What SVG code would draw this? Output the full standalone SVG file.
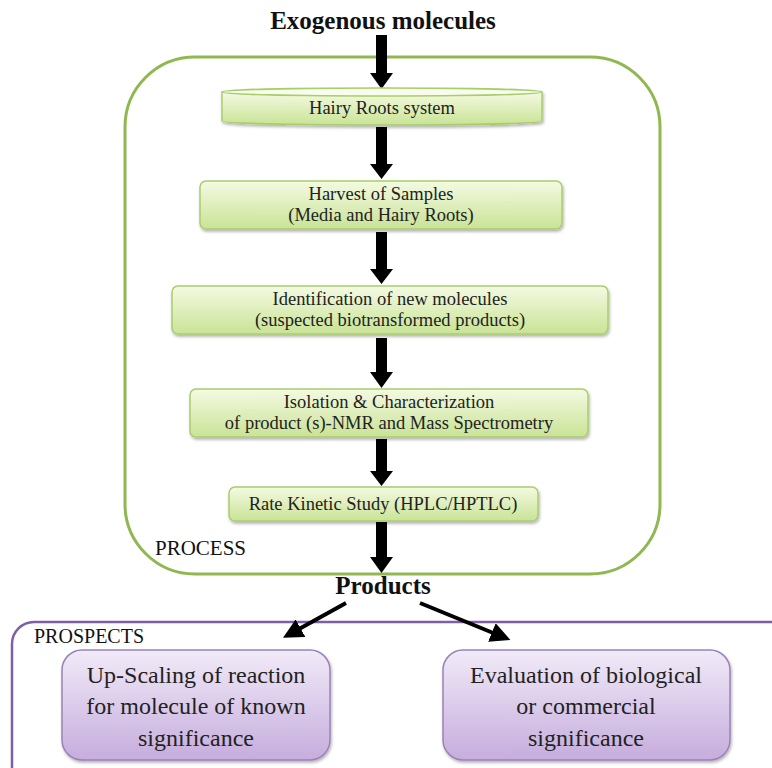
<svg xmlns="http://www.w3.org/2000/svg" width="772" height="768" viewBox="0 0 772 768">
<defs>
<linearGradient id="gg" x1="0" y1="0" x2="0" y2="1"><stop offset="0" stop-color="#f4fae2"/><stop offset="1" stop-color="#c9e396"/></linearGradient>
<linearGradient id="pg" x1="0" y1="0" x2="0" y2="1"><stop offset="0" stop-color="#f1eaf8"/><stop offset="1" stop-color="#c6addd"/></linearGradient>
<filter id="sh" x="-5%" y="-20%" width="110%" height="150%"><feDropShadow dx="1" dy="2" stdDeviation="1.5" flood-color="#000" flood-opacity="0.3"/></filter>
<marker id="ah" viewBox="0 0 10 10" refX="6" refY="5" markerWidth="5" markerHeight="5" orient="auto" markerUnits="strokeWidth"><path d="M0,0 L10,5 L0,10 z" fill="#000"/></marker>
</defs>
<style>
text{font-family:'Liberation Serif',serif;fill:#222;text-anchor:middle}
.g{fill:url(#gg);stroke:#a9cd6c;stroke-width:1.5;filter:url(#sh)}
.p{fill:url(#pg);stroke:#9a82b8;stroke-width:1.5;filter:url(#sh)}
.s{font-size:18.5px}
.b{font-size:25px;font-weight:bold;fill:#111}
.l{font-size:24px}
.bar{fill:#000}
</style>
<rect x="125" y="57" width="535" height="517" rx="70" fill="none" stroke="#8fb850" stroke-width="3"/>
<rect x="12" y="622" width="790" height="170" rx="22" fill="none" stroke="#7d5fa6" stroke-width="2.5"/>
<text x="383" y="29" class="b">Exogenous molecules</text>
<text x="383" y="594" class="b">Products</text>
<text x="155" y="555" style="font-size:21px;text-anchor:start;fill:#111">PROCESS</text>
<text x="34" y="643" style="font-size:20px;text-anchor:start;fill:#111">PROSPECTS</text>
<g id="connectors">
<path class="bar" d="M376,35 H387 V73 H393 L381.5,89 L370,73 H376 Z"/>
<path class="bar" d="M376,127 H387 V164 H393 L381.5,179 L370,164 H376 Z"/>
<path class="bar" d="M376,232 H387 V269 H393 L381.5,284 L370,269 H376 Z"/>
<path class="bar" d="M376,338 H387 V372 H393 L381.5,388 L370,372 H376 Z"/>
<path class="bar" d="M376,439 H387 V471 H393 L381.5,486 L370,471 H376 Z"/>
<path class="bar" d="M376,522 H387 V557 H393 L381.5,573 L370,557 H376 Z"/>
<line x1="346" y1="603" x2="290" y2="634" stroke="#000" stroke-width="4" marker-end="url(#ah)"/>
<line x1="420" y1="603" x2="503" y2="637" stroke="#000" stroke-width="4" marker-end="url(#ah)"/>
</g>
<g id="hairy">
<path class="g" d="M222,92 V121 A160,4 0 0 0 542,121 V92 Z"/>
<ellipse cx="382" cy="92" rx="160" ry="4" fill="#f8fcec" stroke="#a9cd6c" stroke-width="1.5"/>
<text x="382" y="114" class="s">Hairy Roots system</text>
</g>
<g id="harvest">
<rect class="g" x="200" y="181" width="362" height="48" rx="6"/>
<text x="381" y="200" class="s">Harvest of Samples</text>
<text x="381" y="221" class="s">(Media and Hairy Roots)</text>
</g>
<g id="identification">
<rect class="g" x="172" y="286" width="436" height="48" rx="6"/>
<text x="390" y="305" class="s">Identification of new molecules</text>
<text x="390" y="326" class="s">(suspected biotransformed products)</text>
</g>
<g id="isolation">
<rect class="g" x="190" y="389" width="398" height="48" rx="6"/>
<text x="389" y="408" class="s">Isolation &amp; Characterization</text>
<text x="389" y="429" class="s">of product (s)-NMR and Mass Spectrometry</text>
</g>
<g id="rate">
<rect class="g" x="229" y="487" width="309" height="34" rx="6"/>
<text x="383" y="510" class="s">Rate Kinetic Study (HPLC/HPTLC)</text>
</g>
<g id="upscaling">
<rect class="p" x="62" y="650" width="268" height="110" rx="20"/>
<text x="196" y="683" class="l">Up-Scaling of reaction</text>
<text x="196" y="714" class="l">for molecule of known</text>
<text x="196" y="746" class="l">significance</text>
</g>
<g id="evaluation">
<rect class="p" x="443" y="650" width="287" height="110" rx="20"/>
<text x="586" y="683" class="l">Evaluation of biological</text>
<text x="586" y="714" class="l">or commercial</text>
<text x="586" y="746" class="l">significance</text>
</g>
</svg>
